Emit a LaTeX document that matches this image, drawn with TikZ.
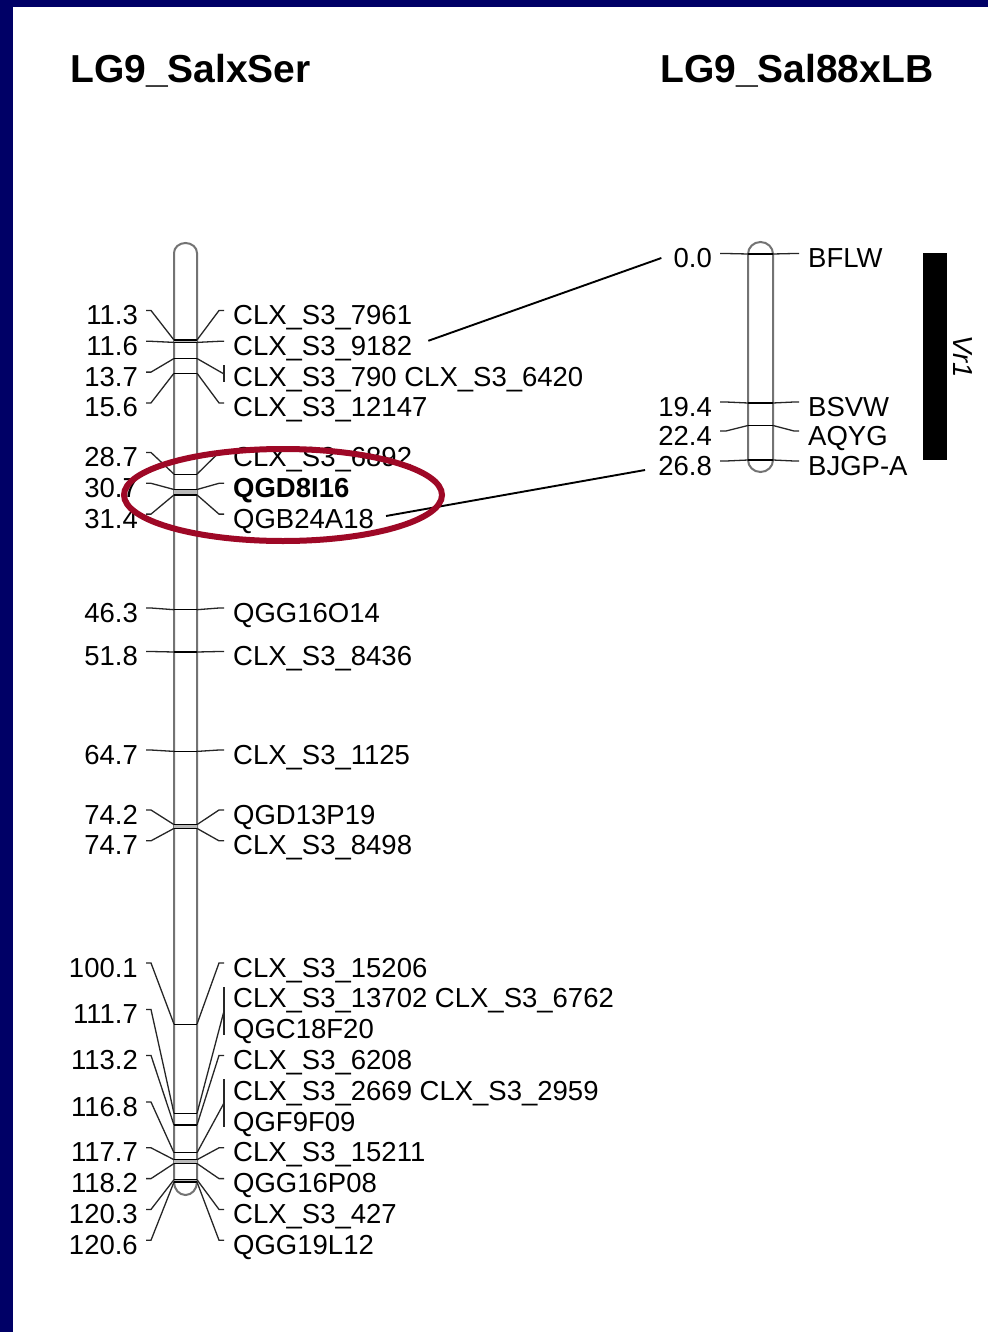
\documentclass[tikz,border=0pt]{standalone}
\usepackage{fontspec}
\setmainfont{Liberation Sans}
\definecolor{navy}{RGB}{0,0,102}
\definecolor{ringred}{RGB}{158,8,38}
\tikzset{
  conn/.style={draw=black!85, line width=1.3pt},
  innerln/.style={draw=black, line width=1.2pt},
  band/.style={fill=gray!55},
  chrom/.style={draw=black!55, line width=2pt, fill=white},
  num/.style={anchor=base east, inner sep=0pt, font=\fontsize{27.5}{30}\selectfont},
  lab/.style={anchor=base west, inner sep=0pt, font=\fontsize{27.5}{30}\selectfont},
  maptitle/.style={anchor=base west, inner sep=0pt, font=\fontsize{39}{42}\selectfont\bfseries},
  link/.style={draw=black, line width=1.9pt},
  ring/.style={draw=ringred, line width=6pt},
}
% left map marker: id, marker y, label centre y, number, label
\newcommand\LMk[5]{%
  \draw[conn] (146,#3-4) -- (151,#3-4) -- (174,#2);
  \draw[innerln] (174,#2) -- (197,#2);
  \draw[conn] (197,#2) -- (219,#3-4) -- (224,#3-4);
  \node[num] (n#1) at (138,#3+10) {#4};
  \node[lab] (l#1) at (233,#3+10) {#5};}
% right map marker
\newcommand\RMk[5]{%
  \draw[conn] (720,#3-4) -- (726,#3-4) -- (748,#2);
  \draw[innerln] (748,#2) -- (773,#2);
  \draw[conn] (773,#2) -- (794,#3-4) -- (799,#3-4);
  \node[num] (n#1) at (712,#3+10) {#4};
  \node[lab] (l#1) at (808,#3+10) {#5};}
\begin{document}
\begin{tikzpicture}[x=1pt,y=-1pt]
\fill[navy] (0,0) rectangle (988,1332);
\fill[white] (13,7) rectangle (988,1332);
\useasboundingbox (0,0) rectangle (988,1332);

% titles
\node[maptitle] (t1) at (70,83) {LG9\_SalxSer};
\node[maptitle] (t2) at (660,83) {LG9\_Sal88xLB};

% chromosomes
\draw[chrom] (174,253) -- (174,1182) arc[start angle=180,end angle=360,x radius=11.5pt,y radius=13pt]
  -- (197,253) arc[start angle=0,end angle=180,x radius=11.5pt,y radius=10pt] -- cycle;
\draw[chrom] (748,254) -- (748,460) arc[start angle=180,end angle=360,x radius=12.5pt,y radius=12pt]
  -- (773,254) arc[start angle=0,end angle=180,x radius=12.5pt,y radius=12pt] -- cycle;

% grey bands between close markers
\fill[band] (174,340) rectangle (197,342.4);
\fill[band] (174,489.5) rectangle (197,494.9);
\fill[band] (174,824.6) rectangle (197,828.4);
\fill[band] (174,1159.7) rectangle (197,1163.5);
\fill[band] (174,1179.7) rectangle (197,1182);

% left map markers
\LMk{a}{340.0}{314.5}{11.3}{CLX\_S3\_7961}
\LMk{b}{342.4}{345.3}{11.6}{CLX\_S3\_9182}
\draw[conn] (146,372.1) -- (151,372.1) -- (174,358.5);
\draw[innerln] (174,358.5) -- (197,358.5);
\draw[conn] (197,358.5) -- (224,374);
\draw[conn] (224,365) -- (224,382);
\node[num] (nc) at (138,386.1) {13.7};
\node[lab] (lc) at (233,386.1) {CLX\_S3\_790 CLX\_S3\_6420};
\LMk{d}{373.2}{406.9}{15.6}{CLX\_S3\_12147}
\LMk{e}{474.1}{456.5}{28.7}{CLX\_S3\_6892}
\LMk{f}{489.5}{487.3}{30.7}{\textbf{QGD8I16}}
\LMk{g}{494.9}{518.1}{31.4}{QGB24A18}
\LMk{h}{609.7}{612}{46.3}{QGG16O14}
\LMk{i}{652.0}{655.5}{51.8}{CLX\_S3\_8436}
\LMk{j}{751.4}{754}{64.7}{CLX\_S3\_1125}
\LMk{k}{824.6}{814}{74.2}{QGD13P19}
\LMk{l}{828.4}{844.8}{74.7}{CLX\_S3\_8498}
\LMk{m}{1024.1}{967}{100.1}{CLX\_S3\_15206}
\draw[conn] (146,1009.5) -- (151,1009.5) -- (174,1113.4);
\draw[innerln] (174,1113.4) -- (197,1113.4);
\draw[conn] (197,1113.4) -- (224,1011);
\draw[conn] (224,987) -- (224,1035);
\node[num] (nn) at (138,1023.2) {111.7};
\node[lab] (ln1) at (233,1007.8) {CLX\_S3\_13702 CLX\_S3\_6762};
\node[lab] (ln2) at (233,1038.6) {QGC18F20};
\LMk{o}{1125.0}{1059.4}{113.2}{CLX\_S3\_6208}
\draw[conn] (146,1102) -- (151,1102) -- (174,1152.7);
\draw[innerln] (174,1152.7) -- (197,1152.7);
\draw[conn] (197,1152.7) -- (224,1103);
\draw[conn] (224,1079) -- (224,1127);
\node[num] (np) at (138,1116) {116.8};
\node[lab] (lp1) at (233,1100.2) {CLX\_S3\_2669 CLX\_S3\_2959};
\node[lab] (lp2) at (233,1131) {QGF9F09};
\LMk{q}{1159.7}{1151.8}{117.7}{CLX\_S3\_15211}
\LMk{r}{1163.5}{1182.6}{118.2}{QGG16P08}
\LMk{s}{1179.7}{1213.4}{120.3}{CLX\_S3\_427}
\LMk{t}{1182.0}{1244.2}{120.6}{QGG19L12}

% right map markers
\RMk{A}{254}{257.5}{0.0}{BFLW}
\RMk{B}{403}{406}{19.4}{BSVW}
\RMk{C}{425.5}{435}{22.4}{AQYG}
\RMk{D}{460}{465}{26.8}{BJGP-A}

% QTL bar
\fill[black] (923,253) rectangle (947,460);
\node[rotate=-90, inner sep=0pt, font=\fontsize{27.5}{30}\selectfont\itshape] (vr) at (963,357) {Vr1};

% links between maps
\draw[link] ([xshift=16pt,yshift=14.5pt]lb.base east) -- ([xshift=-12pt,yshift=9.5pt]nA.base west);
\draw[link] ([xshift=12pt,yshift=12.1pt]lg.base east) -- ([xshift=-13pt,yshift=5pt]nD.base west);

% highlight ring
\draw[ring] (283,495) ellipse [x radius=159pt, y radius=46pt];
\end{tikzpicture}
\end{document}
